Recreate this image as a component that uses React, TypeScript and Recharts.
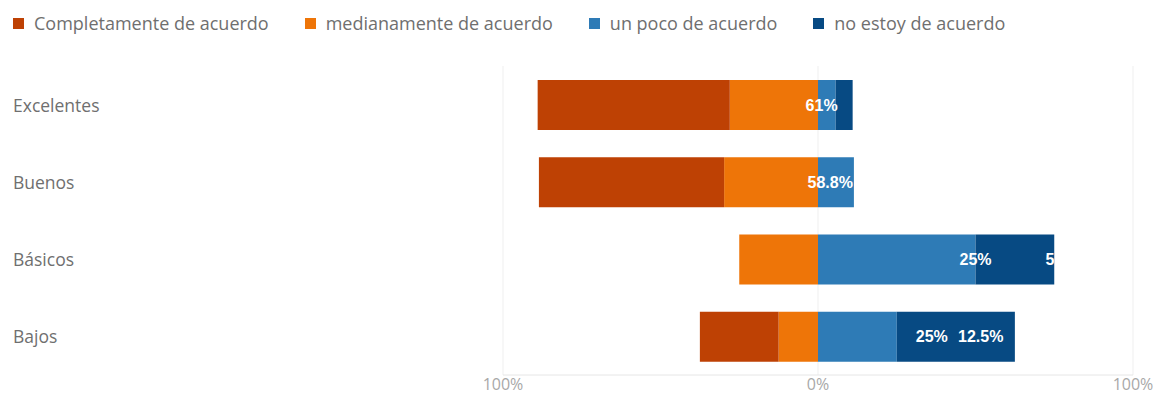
import { BarChart, Bar, XAxis, YAxis, CartesianGrid, LabelList } from "recharts"

const categories = ["Excelentes", "Buenos", "Básicos", "Bajos"]
const completamente = [61, 58.8, 0, 25]
const medianamente = [28, 29.8, 25, 12.5]
const unPoco = [5.6, 11.4, 50, 25]
const noEstoy = [5.4, 0, 25, 37.5]
const labelsMain = ["61%", "58.8%", "25%", "25%"]
const labelsExtra = ["", "", "50%", "12.5%"]
const xTicks = [-100, 0, 100]

const series = [
  { key: "completamente", name: "Completamente de acuerdo", color: "#BE4104" },
  { key: "medianamente", name: "medianamente de acuerdo", color: "#EE7508" },
  { key: "unPoco", name: "un poco de acuerdo", color: "#2E7BB6" },
  { key: "noEstoy", name: "no estoy de acuerdo", color: "#074A83" },
]

const data = categories.map((c, i) => ({
  category: c,
  completamente: -completamente[i],
  medianamente: -medianamente[i],
  unPoco: unPoco[i],
  noEstoy: noEstoy[i],
}))

const colorOf = (key: string) => series.find((s) => s.key === key)!.color

const textFont = "'Open Sans', 'Noto Sans', sans-serif"

function CategoryTick(props: any) {
  const { y, payload } = props
  return (
    <text x={13} y={y} dominantBaseline="central" textAnchor="start" fill="#6f6f6f" fontSize={17.5} fontFamily={textFont}>
      {payload.value}
    </text>
  )
}

function PercentTick(props: any) {
  const { x, y, payload } = props
  return (
    <text x={x} y={y} dominantBaseline="central" textAnchor="middle" fill="#a8a8a8" fontSize={16} fontFamily={textFont}>
      {Math.abs(payload.value)}%
    </text>
  )
}

// labels sit on the "un poco" segment, but spill over the rest of the bar
function BarLabels(props: any) {
  const vb = props.viewBox ?? props
  const x = vb.x ?? props.x
  const y = vb.y ?? props.y
  const width = vb.width ?? props.width
  const height = vb.height ?? props.height
  const index = props.index
  if (x == null || index == null) return null
  const end = x + width
  const perUnit = width / unPoco[index]
  const barEnd = end + noEstoy[index] * perUnit
  const cy = y + height / 2
  const style = {
    fill: "#fff",
    fontSize: 16,
    fontWeight: 700,
    fontFamily: "'Liberation Sans', Arial, sans-serif",
  }
  const main = labelsMain[index]
  const extra = labelsExtra[index]
  const clipId = `lbl-clip-${index}`
  let mainX = barEnd
  let mainAnchor: "end" | "middle" | "start" = "end"
  let extraX = end
  let extraAnchor: "end" | "middle" | "start" = "middle"
  if (index === 0) mainX = barEnd - 15
  else if (index === 1) mainX = barEnd - 1
  else if (index === 2) {
    mainX = end
    mainAnchor = "middle"
    extraX = end + 70
    extraAnchor = "start"
  } else {
    mainX = end + 35
    mainAnchor = "middle"
    extraX = end + 84
  }
  return (
    <g>
      <defs>
        <clipPath id={clipId}>
          <rect x={x - 200} y={y} width={barEnd - x + 200} height={height} />
        </clipPath>
      </defs>
      <g clipPath={`url(#${clipId})`}>
        <text x={mainX} y={cy} dominantBaseline="central" textAnchor={mainAnchor} {...style}>
          {main}
        </text>
        {extra && (
          <text x={extraX} y={cy} dominantBaseline="central" textAnchor={extraAnchor} {...style}>
            {extra}
          </text>
        )}
      </g>
    </g>
  )
}

export default function App() {
  return (
    <div style={{ position: "absolute", left: 0, top: 0, width: 1162, height: 394, background: "#fff" }}>
      <div
        style={{
          position: "absolute",
          left: 13,
          top: 9,
          height: 28,
          display: "flex",
          alignItems: "center",
          fontFamily: textFont,
          fontSize: 18,
          color: "#6f6f6f",
          whiteSpace: "nowrap",
        }}
      >
        {series.map((s) => (
          <div key={s.key} style={{ display: "flex", alignItems: "center", marginRight: 36 }}>
            <span style={{ display: "inline-block", width: 11, height: 11, background: s.color, marginRight: 10 }} />
            <span>{s.name}</span>
          </div>
        ))}
      </div>
      <BarChart
        width={1162}
        height={394}
        data={data}
        layout="vertical"
        stackOffset="sign"
        barSize={50}
        margin={{ top: 66, right: 29, bottom: 0, left: 13 }}
      >
        <CartesianGrid horizontal={false} stroke="#efefef" />
        <XAxis
          type="number"
          domain={[-100, 100]}
          ticks={xTicks}
          height={19}
          tickLine={false}
          tickSize={0}
          tickMargin={9}
          axisLine={{ stroke: "#e6e6e6" }}
          tick={<PercentTick />}
        />
        <YAxis
          type="category"
          dataKey="category"
          width={490}
          axisLine={false}
          tickLine={false}
          tick={<CategoryTick />}
        />
        <Bar dataKey="medianamente" stackId="a" fill={colorOf("medianamente")} isAnimationActive={false} />
        <Bar dataKey="completamente" stackId="a" fill={colorOf("completamente")} isAnimationActive={false} />
        <Bar dataKey="unPoco" stackId="a" fill={colorOf("unPoco")} isAnimationActive={false}>
          <LabelList dataKey="unPoco" content={<BarLabels />} />
        </Bar>
        <Bar dataKey="noEstoy" stackId="a" fill={colorOf("noEstoy")} isAnimationActive={false} />
      </BarChart>
    </div>
  )
}
